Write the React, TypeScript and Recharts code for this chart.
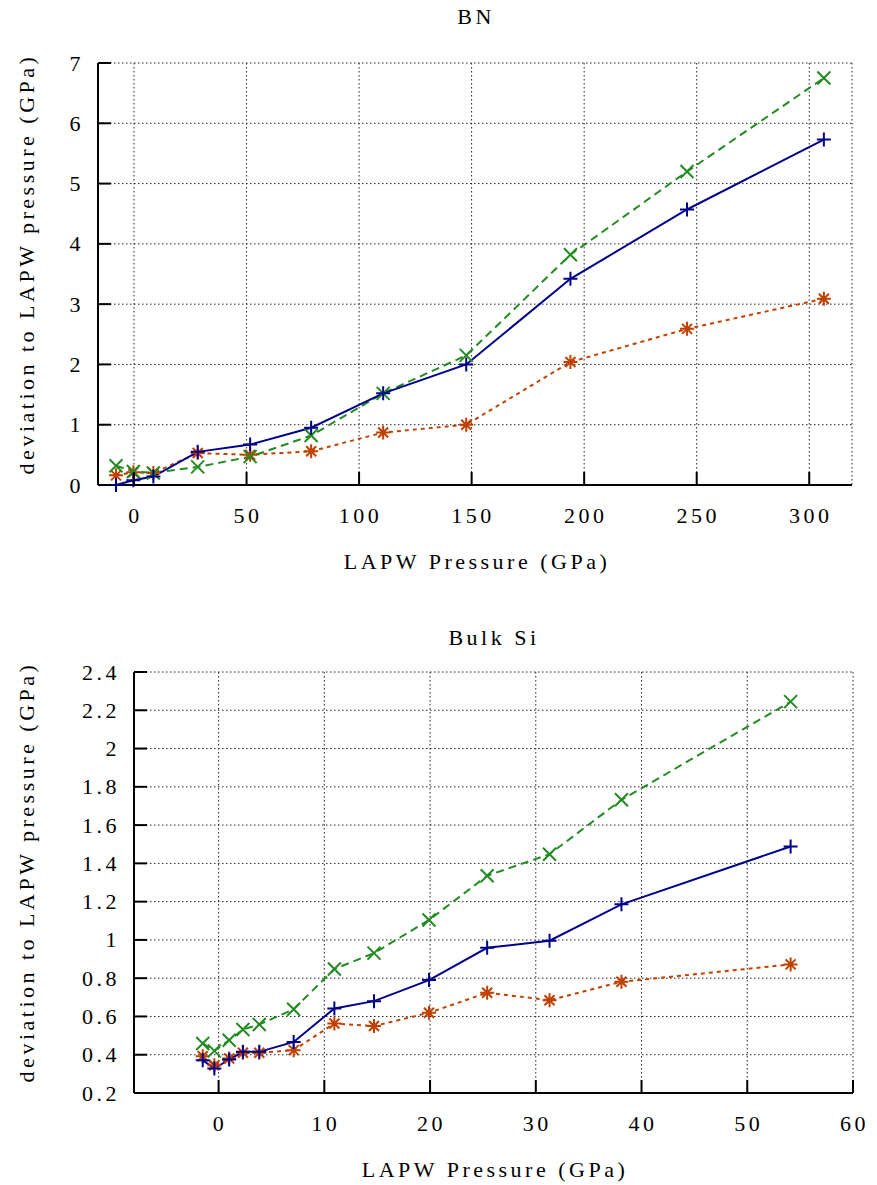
import { CartesianGrid, Line, LineChart, XAxis, YAxis } from "recharts";

const FONT = "'Liberation Serif', 'Times New Roman', Times, 'DejaVu Serif', serif";
const BLUE = "#00008b";
const GREEN = "#228b22";
const ORANGE = "#c04000";

// BN panel
const bnPressure = [-8, -0.3, 8.6, 28.3, 51.6, 78.7, 110.7, 147.6, 193.9, 245.7, 306.5];
const bnPlus = [0.0, 0.08, 0.14, 0.55, 0.67, 0.95, 1.52, 2.0, 3.42, 4.57, 5.73];
const bnCross = [0.32, 0.225, 0.2, 0.3, 0.47, 0.82, 1.52, 2.15, 3.82, 5.2, 6.75];
const bnStar = [0.16, 0.21, 0.2, 0.53, 0.5, 0.56, 0.87, 1.0, 2.04, 2.59, 3.09];
const bnXTicks = [0, 50, 100, 150, 200, 250, 300];
const bnYTicks = [0, 1, 2, 3, 4, 5, 6, 7];

// Bulk Si panel
const siPressure = [-1.5, -0.4, 1.0, 2.3, 3.85, 7.1, 10.95, 14.7, 19.9, 25.4, 31.3, 38.1, 54.1];
const siPlus = [0.371, 0.328, 0.375, 0.415, 0.415, 0.467, 0.642, 0.68, 0.79, 0.959, 0.996, 1.186, 1.488];
const siCross = [0.459, 0.42, 0.476, 0.532, 0.558, 0.638, 0.848, 0.931, 1.104, 1.335, 1.448, 1.732, 2.245];
const siStar = [0.392, 0.345, 0.38, 0.41, 0.41, 0.424, 0.563, 0.55, 0.619, 0.724, 0.685, 0.781, 0.872];
const siXTicks = [0, 10, 20, 30, 40, 50, 60];
const siYTicks = [0.2, 0.4, 0.6, 0.8, 1, 1.2, 1.4, 1.6, 1.8, 2, 2.2, 2.4];

const bnRows = bnPressure.map((p, i) => ({ p, plus: bnPlus[i], cross: bnCross[i], star: bnStar[i] }));
const siRows = siPressure.map((p, i) => ({ p, plus: siPlus[i], cross: siCross[i], star: siStar[i] }));

// label text, Times-like with the wide spacing of the original
const txt = { fontFamily: FONT, fontSize: 22, letterSpacing: 3.5, fill: "#000" } as const;
const TICK = 13;

function Marker({ cx, cy, shape, color }: any) {
  if (cx == null || cy == null) return null;
  const r = 7;
  const plus = `M${cx - r},${cy}H${cx + r}M${cx},${cy - r}V${cy + r}`;
  const cross = (d: number) =>
    `M${cx - d},${cy - d}L${cx + d},${cy + d}M${cx - d},${cy + d}L${cx + d},${cy - d}`;
  const d = shape === "plus" ? plus : shape === "cross" ? cross(6.5) : plus + cross(5);
  return <path d={d} stroke={color} strokeWidth={2} fill="none" />;
}

function BottomTick({ x, y, payload }: any) {
  return (
    <g>
      <line x1={x} x2={x} y1={y} y2={y - TICK} stroke="#000" strokeWidth={2} />
      <text x={x + 1.5} y={y + 38} textAnchor="middle" style={txt}>
        {String(payload.value)}
      </text>
    </g>
  );
}

function TopTick({ x, y }: any) {
  return <line x1={x} x2={x} y1={y} y2={y + TICK} stroke="#000" strokeWidth={2} />;
}

function LeftTick({ x, y, payload }: any) {
  return (
    <g>
      <line x1={x} x2={x + TICK} y1={y} y2={y} stroke="#000" strokeWidth={2} />
      <text x={x - 14} y={y + 7.5} textAnchor="end" style={txt}>
        {String(payload.value)}
      </text>
    </g>
  );
}

function RightTick({ x, y }: any) {
  return <line x1={x} x2={x - TICK} y1={y} y2={y} stroke="#000" strokeWidth={2} />;
}

function Panel({ rows, xDomain, yDomain, xTicks, yTicks, width, height, margin, yWidth, xHeight }: any) {
  const frame = { stroke: "#000", strokeWidth: 2 };
  return (
    <LineChart width={width} height={height} data={rows} margin={margin}>
      <CartesianGrid stroke="#222" strokeDasharray="1.5 2.5" />
      <XAxis
        dataKey="p"
        type="number"
        domain={xDomain}
        ticks={xTicks}
        interval={0}
        height={xHeight}
        tickSize={0}
        tickMargin={0}
        tickLine={false}
        axisLine={frame}
        tick={<BottomTick />}
      />
      <XAxis
        xAxisId="top"
        orientation="top"
        dataKey="p"
        type="number"
        domain={xDomain}
        allowDataOverflow
        ticks={xTicks}
        interval={0}
        height={0}
        tickSize={0}
        tickMargin={0}
        tickLine={false}
        axisLine={frame}
        tick={<TopTick />}
      />
      <YAxis
        type="number"
        domain={yDomain}
        ticks={yTicks}
        interval={0}
        width={yWidth}
        tickSize={0}
        tickMargin={0}
        tickLine={false}
        axisLine={frame}
        tick={<LeftTick />}
      />
      <YAxis
        yAxisId="right"
        orientation="right"
        type="number"
        domain={yDomain}
        allowDataOverflow
        ticks={yTicks}
        interval={0}
        width={0}
        tickSize={0}
        tickMargin={0}
        tickLine={false}
        axisLine={frame}
        tick={<RightTick />}
      />
      <Line
        dataKey="star"
        stroke={ORANGE}
        strokeWidth={2}
        strokeDasharray="4 4"
        isAnimationActive={false}
        dot={(p: any) => <Marker key={`s${p.index}`} cx={p.cx} cy={p.cy} shape="star" color={ORANGE} />}
      />
      <Line
        dataKey="cross"
        stroke={GREEN}
        strokeWidth={2}
        strokeDasharray="8 5"
        isAnimationActive={false}
        dot={(p: any) => <Marker key={`c${p.index}`} cx={p.cx} cy={p.cy} shape="cross" color={GREEN} />}
      />
      <Line
        dataKey="plus"
        stroke={BLUE}
        strokeWidth={2}
        isAnimationActive={false}
        dot={(p: any) => <Marker key={`p${p.index}`} cx={p.cx} cy={p.cy} shape="plus" color={BLUE} />}
      />
    </LineChart>
  );
}

export default function App() {
  const yLabel = "deviation to LAPW pressure (GPa)";
  const xLabel = "LAPW Pressure (GPa)";
  return (
    <div style={{ position: "absolute", left: 0, top: 0, width: 877, height: 1185, background: "#fff", fontFamily: FONT }}>
      <div style={{ position: "absolute", left: 0, top: 0 }}>
        <Panel
          rows={bnRows}
          xDomain={[-16, 319]}
          yDomain={[0, 7]}
          xTicks={bnXTicks}
          yTicks={bnYTicks}
          width={877}
          height={600}
          margin={{ top: 63, right: 25, bottom: 0, left: 0 }}
          yWidth={98}
          xHeight={115}
        />
      </div>
      <div style={{ position: "absolute", left: 0, top: 600 }}>
        <Panel
          rows={siRows}
          xDomain={[-8, 60]}
          yDomain={[0.2, 2.4]}
          xTicks={siXTicks}
          yTicks={siYTicks}
          width={877}
          height={585}
          margin={{ top: 72, right: 24, bottom: 0, left: 0 }}
          yWidth={134}
          xHeight={92}
        />
      </div>
      <svg width={877} height={1185} style={{ position: "absolute", left: 0, top: 0, pointerEvents: "none" }}>
        <text x={476} y={24} textAnchor="middle" style={txt}>BN</text>
        <text x={477} y={569} textAnchor="middle" style={txt}>{xLabel}</text>
        <text transform="translate(34,264) rotate(-90)" textAnchor="middle" style={txt}>{yLabel}</text>
        <text x={494} y={645} textAnchor="middle" style={txt}>Bulk Si</text>
        <text x={495} y={1177} textAnchor="middle" style={txt}>{xLabel}</text>
        <text transform="translate(34,872) rotate(-90)" textAnchor="middle" style={txt}>{yLabel}</text>
      </svg>
    </div>
  );
}
